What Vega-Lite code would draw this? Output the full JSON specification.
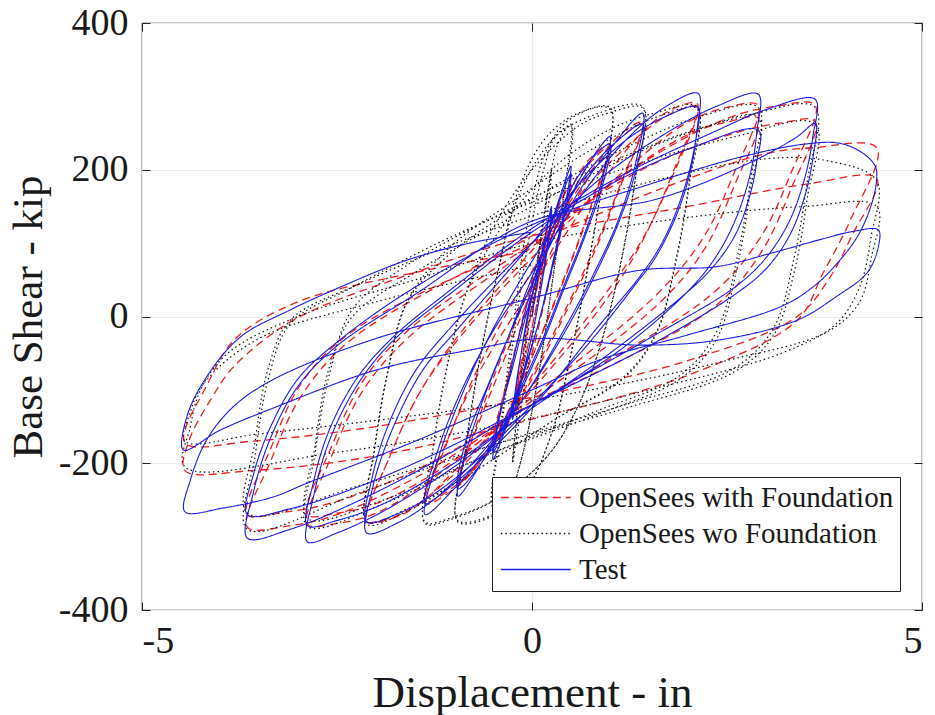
{
"$schema": "https://vega.github.io/schema/vega-lite/v6.json",
"width": 780, "height": 587,
"autosize": {"type": "none"},
"padding": {"left": 142, "top": 23, "right": 13, "bottom": 105},
"background": "white",
"data": {"values": [
{"s":"F","x":0,"y":0},{"s":"F","x":0.12,"y":70},{"s":"F","x":0.25,"y":130},
{"s":"F","x":0.15,"y":70},{"s":"F","x":0.03,"y":0},{"s":"F","x":-0.12,"y":-70},{"s":"F","x":-0.25,"y":-130},
{"s":"F","x":-0.15,"y":-70},{"s":"F","x":-0.03,"y":0},{"s":"F","x":0.12,"y":70},{"s":"F","x":0.25,"y":128},
{"s":"F","x":0.15,"y":68},{"s":"F","x":0.03,"y":0},{"s":"F","x":-0.12,"y":-70},{"s":"F","x":-0.25,"y":-128},
{"s":"F","x":-0.12,"y":-60},{"s":"F","x":0,"y":10},{"s":"F","x":0.2,"y":100},{"s":"F","x":0.38,"y":160},{"s":"F","x":0.5,"y":180},
{"s":"F","x":0.38,"y":120},{"s":"F","x":0.2,"y":40},{"s":"F","x":0,"y":-50},{"s":"F","x":-0.2,"y":-120},{"s":"F","x":-0.38,"y":-160},{"s":"F","x":-0.5,"y":-175},
{"s":"F","x":-0.38,"y":-115},{"s":"F","x":-0.2,"y":-40},{"s":"F","x":0,"y":50},{"s":"F","x":0.2,"y":120},{"s":"F","x":0.38,"y":160},{"s":"F","x":0.5,"y":178},
{"s":"F","x":0.38,"y":118},{"s":"F","x":0.2,"y":38},{"s":"F","x":0,"y":-50},{"s":"F","x":-0.2,"y":-118},{"s":"F","x":-0.38,"y":-158},{"s":"F","x":-0.5,"y":-172},
{"s":"F","x":-0.35,"y":-100},{"s":"F","x":-0.15,"y":-20},{"s":"F","x":0.1,"y":60},{"s":"F","x":0.4,"y":150},{"s":"F","x":0.7,"y":210},{"s":"F","x":1.0,"y":235},
{"s":"F","x":0.8,"y":165},{"s":"F","x":0.55,"y":90},{"s":"F","x":0.25,"y":10},{"s":"F","x":-0.1,"y":-80},{"s":"F","x":-0.45,"y":-160},{"s":"F","x":-0.75,"y":-210},{"s":"F","x":-0.95,"y":-230},
{"s":"F","x":-0.75,"y":-160},{"s":"F","x":-0.5,"y":-85},{"s":"F","x":-0.2,"y":-5},{"s":"F","x":0.1,"y":70},{"s":"F","x":0.45,"y":155},{"s":"F","x":0.75,"y":210},{"s":"F","x":1.0,"y":232},
{"s":"F","x":0.8,"y":162},{"s":"F","x":0.55,"y":88},{"s":"F","x":0.25,"y":8},{"s":"F","x":-0.1,"y":-80},{"s":"F","x":-0.45,"y":-160},{"s":"F","x":-0.75,"y":-208},{"s":"F","x":-0.95,"y":-228},
{"s":"F","x":-0.7,"y":-150},{"s":"F","x":-0.4,"y":-70},{"s":"F","x":-0.1,"y":10},{"s":"F","x":0.3,"y":100},{"s":"F","x":0.7,"y":185},{"s":"F","x":1.1,"y":245},{"s":"F","x":1.42,"y":265},
{"s":"F","x":1.15,"y":185},{"s":"F","x":0.85,"y":105},{"s":"F","x":0.5,"y":25},{"s":"F","x":0,"y":-80},{"s":"F","x":-0.5,"y":-175},{"s":"F","x":-1.0,"y":-235},{"s":"F","x":-1.37,"y":-255},
{"s":"F","x":-1.1,"y":-175},{"s":"F","x":-0.8,"y":-95},{"s":"F","x":-0.4,"y":-10},{"s":"F","x":0.1,"y":80},{"s":"F","x":0.6,"y":175},{"s":"F","x":1.1,"y":240},{"s":"F","x":1.42,"y":262},
{"s":"F","x":1.15,"y":182},{"s":"F","x":0.85,"y":100},{"s":"F","x":0.5,"y":20},{"s":"F","x":0,"y":-85},{"s":"F","x":-0.5,"y":-175},{"s":"F","x":-1.0,"y":-232},{"s":"F","x":-1.37,"y":-252},
{"s":"F","x":-1.07,"y":-165},{"s":"F","x":-0.7,"y":-80},{"s":"F","x":0,"y":40},{"s":"F","x":0.8,"y":170},{"s":"F","x":1.5,"y":260},{"s":"F","x":1.85,"y":285},{"s":"F","x":2.12,"y":290},
{"s":"F","x":1.82,"y":200},{"s":"F","x":1.45,"y":110},{"s":"F","x":1.0,"y":30},{"s":"F","x":0,"y":-100},{"s":"F","x":-0.9,"y":-200},{"s":"F","x":-1.5,"y":-260},{"s":"F","x":-1.85,"y":-277},{"s":"F","x":-2.12,"y":-280},
{"s":"F","x":-1.82,"y":-190},{"s":"F","x":-1.42,"y":-100},{"s":"F","x":-0.9,"y":-20},{"s":"F","x":0,"y":90},{"s":"F","x":1.0,"y":210},{"s":"F","x":1.6,"y":265},{"s":"F","x":1.9,"y":282},{"s":"F","x":2.12,"y":286},
{"s":"F","x":1.82,"y":196},{"s":"F","x":1.42,"y":106},{"s":"F","x":0.9,"y":25},{"s":"F","x":0,"y":-95},{"s":"F","x":-1.0,"y":-215},{"s":"F","x":-1.6,"y":-265},{"s":"F","x":-1.9,"y":-277},{"s":"F","x":-2.12,"y":-279},
{"s":"F","x":-1.82,"y":-190},{"s":"F","x":-1.42,"y":-100},{"s":"F","x":-0.9,"y":-25},{"s":"F","x":0,"y":80},{"s":"F","x":1.2,"y":200},{"s":"F","x":2.0,"y":265},{"s":"F","x":2.5,"y":285},{"s":"F","x":2.9,"y":288},
{"s":"F","x":2.6,"y":198},{"s":"F","x":2.2,"y":108},{"s":"F","x":1.6,"y":30},{"s":"F","x":0,"y":-110},{"s":"F","x":-1.2,"y":-215},{"s":"F","x":-2.0,"y":-268},{"s":"F","x":-2.5,"y":-282},{"s":"F","x":-2.88,"y":-283},
{"s":"F","x":-2.58,"y":-193},{"s":"F","x":-2.18,"y":-103},{"s":"F","x":-1.6,"y":-30},{"s":"F","x":0,"y":95},{"s":"F","x":1.2,"y":195},{"s":"F","x":2.0,"y":248},{"s":"F","x":2.5,"y":265},{"s":"F","x":2.9,"y":270},
{"s":"F","x":2.6,"y":180},{"s":"F","x":2.2,"y":90},{"s":"F","x":1.6,"y":15},{"s":"F","x":0,"y":-115},{"s":"F","x":-1.2,"y":-210},{"s":"F","x":-2.0,"y":-255},{"s":"F","x":-2.5,"y":-268},{"s":"F","x":-2.88,"y":-270},
{"s":"F","x":-2.58,"y":-180},{"s":"F","x":-2.18,"y":-90},{"s":"F","x":-1.6,"y":-20},{"s":"F","x":0,"y":100},{"s":"F","x":1.5,"y":215},{"s":"F","x":2.5,"y":270},{"s":"F","x":3.1,"y":286},{"s":"F","x":3.63,"y":288},
{"s":"F","x":3.33,"y":198},{"s":"F","x":2.93,"y":108},{"s":"F","x":2.3,"y":30},{"s":"F","x":0,"y":-120},{"s":"F","x":-1.5,"y":-220},{"s":"F","x":-2.5,"y":-270},{"s":"F","x":-3.1,"y":-285},{"s":"F","x":-3.65,"y":-287},
{"s":"F","x":-3.35,"y":-197},{"s":"F","x":-2.95,"y":-107},{"s":"F","x":-2.3,"y":-30},{"s":"F","x":0,"y":110},{"s":"F","x":1.5,"y":205},{"s":"F","x":2.6,"y":250},{"s":"F","x":3.2,"y":264},{"s":"F","x":3.63,"y":266},
{"s":"F","x":3.33,"y":176},{"s":"F","x":2.93,"y":86},{"s":"F","x":2.3,"y":10},{"s":"F","x":0,"y":-120},{"s":"F","x":-1.5,"y":-210},{"s":"F","x":-2.6,"y":-255},{"s":"F","x":-3.2,"y":-267},{"s":"F","x":-3.65,"y":-270},
{"s":"F","x":-3.35,"y":-180},{"s":"F","x":-2.95,"y":-90},{"s":"F","x":-2.3,"y":-20},{"s":"F","x":0,"y":100},{"s":"F","x":1.8,"y":180},{"s":"F","x":3.0,"y":222},{"s":"F","x":3.6,"y":230},{"s":"F","x":4.42,"y":230},
{"s":"F","x":4.08,"y":131},{"s":"F","x":3.73,"y":59},{"s":"F","x":3.4,"y":-5},{"s":"F","x":2.0,"y":-80},{"s":"F","x":0,"y":-140},{"s":"F","x":-2.0,"y":-190},{"s":"F","x":-3.6,"y":-210},{"s":"F","x":-4.45,"y":-210},
{"s":"F","x":-4.4,"y":-170},{"s":"F","x":-4.1,"y":-110},{"s":"F","x":-3.83,"y":-69},{"s":"F","x":-3.06,"y":-5},{"s":"F","x":-1.5,"y":60},{"s":"F","x":0,"y":110},{"s":"F","x":2.0,"y":150},{"s":"F","x":3.5,"y":180},{"s":"F","x":4.42,"y":188},
{"s":"F","x":4.1,"y":110},{"s":"F","x":3.8,"y":50},{"s":"F","x":3.4,"y":0},{"s":"F","x":2.0,"y":-60},{"s":"F","x":0,"y":-110},{"s":"F","x":-2.0,"y":-150},{"s":"F","x":-3.6,"y":-170},{"s":"F","x":-4.45,"y":-172},
{"s":"F","x":-4.15,"y":-90},{"s":"F","x":-3.8,"y":-30},{"s":"F","x":-3.0,"y":20},{"s":"F","x":-1.5,"y":60},{"s":"F","x":0,"y":90},

{"s":"W","x":0,"y":0},{"s":"W","x":0.12,"y":110},{"s":"W","x":0.25,"y":200},
{"s":"W","x":0.18,"y":120},{"s":"W","x":0.05,"y":0},{"s":"W","x":-0.12,"y":-110},{"s":"W","x":-0.25,"y":-200},
{"s":"W","x":-0.18,"y":-120},{"s":"W","x":-0.05,"y":0},{"s":"W","x":0.12,"y":110},{"s":"W","x":0.25,"y":198},
{"s":"W","x":0.18,"y":118},{"s":"W","x":0.05,"y":0},{"s":"W","x":-0.12,"y":-110},{"s":"W","x":-0.25,"y":-198},
{"s":"W","x":-0.15,"y":-100},{"s":"W","x":0,"y":20},{"s":"W","x":0.2,"y":170},{"s":"W","x":0.35,"y":240},{"s":"W","x":0.5,"y":262},
{"s":"W","x":0.4,"y":160},{"s":"W","x":0.25,"y":40},{"s":"W","x":0.05,"y":-100},{"s":"W","x":-0.15,"y":-200},{"s":"W","x":-0.3,"y":-245},{"s":"W","x":-0.5,"y":-260},
{"s":"W","x":-0.4,"y":-160},{"s":"W","x":-0.25,"y":-40},{"s":"W","x":-0.05,"y":100},{"s":"W","x":0.15,"y":200},{"s":"W","x":0.3,"y":245},{"s":"W","x":0.5,"y":260},
{"s":"W","x":0.4,"y":158},{"s":"W","x":0.25,"y":38},{"s":"W","x":0.05,"y":-100},{"s":"W","x":-0.15,"y":-200},{"s":"W","x":-0.3,"y":-243},{"s":"W","x":-0.5,"y":-258},
{"s":"W","x":-0.4,"y":-150},{"s":"W","x":-0.25,"y":-20},{"s":"W","x":-0.05,"y":130},{"s":"W","x":0.2,"y":230},{"s":"W","x":0.5,"y":270},{"s":"W","x":1.0,"y":285},
{"s":"W","x":0.9,"y":185},{"s":"W","x":0.72,"y":70},{"s":"W","x":0.5,"y":-50},{"s":"W","x":0.25,"y":-160},{"s":"W","x":-0.1,"y":-240},{"s":"W","x":-0.5,"y":-272},{"s":"W","x":-0.95,"y":-280},
{"s":"W","x":-0.85,"y":-180},{"s":"W","x":-0.68,"y":-65},{"s":"W","x":-0.45,"y":55},{"s":"W","x":-0.2,"y":165},{"s":"W","x":0.15,"y":240},{"s":"W","x":0.55,"y":275},{"s":"W","x":1.0,"y":283},
{"s":"W","x":0.9,"y":183},{"s":"W","x":0.72,"y":68},{"s":"W","x":0.5,"y":-52},{"s":"W","x":0.25,"y":-160},{"s":"W","x":-0.1,"y":-240},{"s":"W","x":-0.5,"y":-270},{"s":"W","x":-0.95,"y":-278},
{"s":"W","x":-0.85,"y":-178},{"s":"W","x":-0.68,"y":-63},{"s":"W","x":-0.45,"y":55},{"s":"W","x":-0.15,"y":170},{"s":"W","x":0.3,"y":245},{"s":"W","x":0.8,"y":275},{"s":"W","x":1.42,"y":286},
{"s":"W","x":1.32,"y":186},{"s":"W","x":1.15,"y":80},{"s":"W","x":0.9,"y":-30},{"s":"W","x":0.6,"y":-120},{"s":"W","x":0.2,"y":-190},{"s":"W","x":-0.4,"y":-245},{"s":"W","x":-1.0,"y":-275},{"s":"W","x":-1.37,"y":-282},
{"s":"W","x":-1.27,"y":-182},{"s":"W","x":-1.1,"y":-75},{"s":"W","x":-0.85,"y":30},{"s":"W","x":-0.5,"y":120},{"s":"W","x":0,"y":200},{"s":"W","x":0.6,"y":260},{"s":"W","x":1.0,"y":278},{"s":"W","x":1.42,"y":284},
{"s":"W","x":1.32,"y":184},{"s":"W","x":1.15,"y":78},{"s":"W","x":0.9,"y":-32},{"s":"W","x":0.6,"y":-120},{"s":"W","x":0.2,"y":-190},{"s":"W","x":-0.4,"y":-245},{"s":"W","x":-1.0,"y":-273},{"s":"W","x":-1.37,"y":-280},
{"s":"W","x":-1.27,"y":-180},{"s":"W","x":-1.1,"y":-73},{"s":"W","x":-0.85,"y":30},{"s":"W","x":-0.4,"y":120},{"s":"W","x":0.3,"y":205},{"s":"W","x":1.0,"y":255},{"s":"W","x":1.6,"y":278},{"s":"W","x":2.12,"y":286},
{"s":"W","x":2.02,"y":186},{"s":"W","x":1.85,"y":80},{"s":"W","x":1.6,"y":-20},{"s":"W","x":1.2,"y":-80},{"s":"W","x":0.3,"y":-140},{"s":"W","x":-0.8,"y":-215},{"s":"W","x":-1.6,"y":-265},{"s":"W","x":-2.12,"y":-283},
{"s":"W","x":-2.02,"y":-183},{"s":"W","x":-1.85,"y":-77},{"s":"W","x":-1.6,"y":20},{"s":"W","x":-1.1,"y":90},{"s":"W","x":-0.2,"y":160},{"s":"W","x":0.8,"y":230},{"s":"W","x":1.6,"y":272},{"s":"W","x":2.12,"y":283},
{"s":"W","x":2.02,"y":183},{"s":"W","x":1.85,"y":77},{"s":"W","x":1.6,"y":-22},{"s":"W","x":1.2,"y":-82},{"s":"W","x":0.3,"y":-140},{"s":"W","x":-0.8,"y":-215},{"s":"W","x":-1.6,"y":-262},{"s":"W","x":-2.12,"y":-280},
{"s":"W","x":-2.02,"y":-180},{"s":"W","x":-1.85,"y":-75},{"s":"W","x":-1.6,"y":20},{"s":"W","x":-1.0,"y":90},{"s":"W","x":0,"y":160},{"s":"W","x":1.2,"y":230},{"s":"W","x":2.2,"y":274},{"s":"W","x":2.9,"y":285},
{"s":"W","x":2.8,"y":185},{"s":"W","x":2.63,"y":80},{"s":"W","x":2.37,"y":-20},{"s":"W","x":1.9,"y":-80},{"s":"W","x":0.8,"y":-130},{"s":"W","x":-0.6,"y":-190},{"s":"W","x":-1.9,"y":-255},{"s":"W","x":-2.88,"y":-286},
{"s":"W","x":-2.78,"y":-186},{"s":"W","x":-2.6,"y":-80},{"s":"W","x":-2.3,"y":10},{"s":"W","x":-1.6,"y":70},{"s":"W","x":-0.4,"y":140},{"s":"W","x":1.0,"y":210},{"s":"W","x":2.2,"y":258},{"s":"W","x":2.9,"y":272},
{"s":"W","x":2.8,"y":172},{"s":"W","x":2.63,"y":67},{"s":"W","x":2.37,"y":-30},{"s":"W","x":1.9,"y":-85},{"s":"W","x":0.8,"y":-135},{"s":"W","x":-0.6,"y":-190},{"s":"W","x":-1.9,"y":-250},{"s":"W","x":-2.88,"y":-275},
{"s":"W","x":-2.78,"y":-175},{"s":"W","x":-2.6,"y":-70},{"s":"W","x":-2.3,"y":0},{"s":"W","x":-1.5,"y":60},{"s":"W","x":0,"y":150},{"s":"W","x":1.5,"y":230},{"s":"W","x":2.8,"y":275},{"s":"W","x":3.63,"y":285},
{"s":"W","x":3.53,"y":185},{"s":"W","x":3.36,"y":80},{"s":"W","x":3.1,"y":-15},{"s":"W","x":2.6,"y":-70},{"s":"W","x":1.2,"y":-120},{"s":"W","x":-0.5,"y":-175},{"s":"W","x":-2.2,"y":-240},{"s":"W","x":-3.65,"y":-290},
{"s":"W","x":-3.55,"y":-190},{"s":"W","x":-3.38,"y":-85},{"s":"W","x":-3.1,"y":-10},{"s":"W","x":-2.3,"y":40},{"s":"W","x":-0.8,"y":120},{"s":"W","x":1.0,"y":195},{"s":"W","x":2.6,"y":245},{"s":"W","x":3.63,"y":262},
{"s":"W","x":3.53,"y":162},{"s":"W","x":3.36,"y":60},{"s":"W","x":3.1,"y":-25},{"s":"W","x":2.6,"y":-75},{"s":"W","x":1.2,"y":-125},{"s":"W","x":-0.5,"y":-175},{"s":"W","x":-2.2,"y":-230},{"s":"W","x":-3.65,"y":-268},
{"s":"W","x":-3.55,"y":-170},{"s":"W","x":-3.38,"y":-70},{"s":"W","x":-3.1,"y":-5},{"s":"W","x":-2.2,"y":45},{"s":"W","x":-0.6,"y":115},{"s":"W","x":1.2,"y":175},{"s":"W","x":3.0,"y":215},{"s":"W","x":3.8,"y":212},{"s":"W","x":4.42,"y":185},
{"s":"W","x":4.35,"y":110},{"s":"W","x":4.2,"y":40},{"s":"W","x":3.9,"y":-10},{"s":"W","x":3.2,"y":-50},{"s":"W","x":1.5,"y":-100},{"s":"W","x":-0.5,"y":-150},{"s":"W","x":-2.5,"y":-185},{"s":"W","x":-4.45,"y":-205},
{"s":"W","x":-4.38,"y":-150},{"s":"W","x":-4.25,"y":-100},{"s":"W","x":-3.9,"y":-50},{"s":"W","x":-3.0,"y":0},{"s":"W","x":-1.5,"y":50},{"s":"W","x":0,"y":100},{"s":"W","x":2.0,"y":135},{"s":"W","x":3.5,"y":150},{"s":"W","x":4.42,"y":150},
{"s":"W","x":4.35,"y":80},{"s":"W","x":4.2,"y":20},{"s":"W","x":3.8,"y":-20},{"s":"W","x":2.5,"y":-60},{"s":"W","x":0.5,"y":-105},{"s":"W","x":-1.5,"y":-135},{"s":"W","x":-3.5,"y":-160},{"s":"W","x":-4.45,"y":-170},
{"s":"W","x":-4.38,"y":-130},{"s":"W","x":-4.2,"y":-90},{"s":"W","x":-3.5,"y":-30},{"s":"W","x":-2.0,"y":20},{"s":"W","x":0,"y":70},

{"s":"T","x":0,"y":0},{"s":"T","x":0.12,"y":80},{"s":"T","x":0.25,"y":150},
{"s":"T","x":0.2,"y":100},{"s":"T","x":0.05,"y":0},{"s":"T","x":-0.12,"y":-80},{"s":"T","x":-0.25,"y":-140},
{"s":"T","x":-0.2,"y":-90},{"s":"T","x":-0.05,"y":0},{"s":"T","x":0.12,"y":85},{"s":"T","x":0.25,"y":145},
{"s":"T","x":0.2,"y":95},{"s":"T","x":0.05,"y":0},{"s":"T","x":-0.12,"y":-80},{"s":"T","x":-0.25,"y":-135},
{"s":"T","x":-0.18,"y":-80},{"s":"T","x":-0.05,"y":5},{"s":"T","x":0.2,"y":110},{"s":"T","x":0.38,"y":170},{"s":"T","x":0.5,"y":205},
{"s":"T","x":0.44,"y":160},{"s":"T","x":0.3,"y":90},{"s":"T","x":0.08,"y":-10},{"s":"T","x":-0.2,"y":-110},{"s":"T","x":-0.38,"y":-165},{"s":"T","x":-0.5,"y":-195},
{"s":"T","x":-0.44,"y":-150},{"s":"T","x":-0.3,"y":-85},{"s":"T","x":-0.08,"y":10},{"s":"T","x":0.2,"y":110},{"s":"T","x":0.38,"y":165},{"s":"T","x":0.5,"y":195},
{"s":"T","x":0.44,"y":150},{"s":"T","x":0.3,"y":85},{"s":"T","x":0.08,"y":-10},{"s":"T","x":-0.2,"y":-105},{"s":"T","x":-0.38,"y":-160},{"s":"T","x":-0.5,"y":-185},
{"s":"T","x":-0.43,"y":-140},{"s":"T","x":-0.25,"y":-70},{"s":"T","x":0,"y":30},{"s":"T","x":0.3,"y":120},{"s":"T","x":0.6,"y":185},{"s":"T","x":0.85,"y":228},{"s":"T","x":1.0,"y":245},
{"s":"T","x":0.92,"y":195},{"s":"T","x":0.7,"y":120},{"s":"T","x":0.4,"y":40},{"s":"T","x":0.1,"y":-40},{"s":"T","x":-0.3,"y":-130},{"s":"T","x":-0.65,"y":-200},{"s":"T","x":-0.95,"y":-245},
{"s":"T","x":-0.87,"y":-195},{"s":"T","x":-0.65,"y":-120},{"s":"T","x":-0.35,"y":-40},{"s":"T","x":-0.05,"y":40},{"s":"T","x":0.3,"y":130},{"s":"T","x":0.65,"y":200},{"s":"T","x":1.0,"y":235},
{"s":"T","x":0.92,"y":185},{"s":"T","x":0.7,"y":115},{"s":"T","x":0.4,"y":35},{"s":"T","x":0.1,"y":-45},{"s":"T","x":-0.3,"y":-135},{"s":"T","x":-0.65,"y":-200},{"s":"T","x":-0.95,"y":-235},
{"s":"T","x":-0.85,"y":-170},{"s":"T","x":-0.55,"y":-90},{"s":"T","x":-0.25,"y":-15},{"s":"T","x":0.2,"y":90},{"s":"T","x":0.6,"y":170},{"s":"T","x":1.0,"y":228},{"s":"T","x":1.42,"y":277},
{"s":"T","x":1.32,"y":205},{"s":"T","x":1.1,"y":130},{"s":"T","x":0.8,"y":60},{"s":"T","x":0.4,"y":-20},{"s":"T","x":-0.1,"y":-110},{"s":"T","x":-0.6,"y":-185},{"s":"T","x":-1.0,"y":-235},{"s":"T","x":-1.37,"y":-270},
{"s":"T","x":-1.18,"y":-186},{"s":"T","x":-0.76,"y":-73},{"s":"T","x":-0.32,"y":18},{"s":"T","x":0.2,"y":110},{"s":"T","x":0.7,"y":195},{"s":"T","x":1.1,"y":240},{"s":"T","x":1.42,"y":262},
{"s":"T","x":1.32,"y":195},{"s":"T","x":1.1,"y":125},{"s":"T","x":0.8,"y":55},{"s":"T","x":0.4,"y":-25},{"s":"T","x":-0.1,"y":-110},{"s":"T","x":-0.6,"y":-180},{"s":"T","x":-1.0,"y":-225},{"s":"T","x":-1.37,"y":-255},
{"s":"T","x":-1.2,"y":-180},{"s":"T","x":-0.9,"y":-100},{"s":"T","x":-0.5,"y":-20},{"s":"T","x":0,"y":60},{"s":"T","x":0.6,"y":160},{"s":"T","x":1.2,"y":240},{"s":"T","x":1.7,"y":285},{"s":"T","x":2.13,"y":304},
{"s":"T","x":2.12,"y":258},{"s":"T","x":2.03,"y":204},{"s":"T","x":1.86,"y":146},{"s":"T","x":1.64,"y":95},{"s":"T","x":1.38,"y":54},{"s":"T","x":0.8,"y":-20},{"s":"T","x":0.2,"y":-100},{"s":"T","x":-0.5,"y":-180},{"s":"T","x":-1.2,"y":-245},{"s":"T","x":-1.7,"y":-280},{"s":"T","x":-2.12,"y":-295},
{"s":"T","x":-2.04,"y":-232},{"s":"T","x":-1.78,"y":-151},{"s":"T","x":-1.4,"y":-73},{"s":"T","x":-0.96,"y":-18},{"s":"T","x":0,"y":100},{"s":"T","x":0.6,"y":180},{"s":"T","x":1.2,"y":240},{"s":"T","x":1.7,"y":272},{"s":"T","x":2.12,"y":285},
{"s":"T","x":2.1,"y":240},{"s":"T","x":2.0,"y":185},{"s":"T","x":1.82,"y":130},{"s":"T","x":1.58,"y":80},{"s":"T","x":1.3,"y":40},{"s":"T","x":0.7,"y":-40},{"s":"T","x":0,"y":-120},{"s":"T","x":-0.7,"y":-195},{"s":"T","x":-1.3,"y":-245},{"s":"T","x":-1.75,"y":-270},{"s":"T","x":-2.12,"y":-280},
{"s":"T","x":-2.05,"y":-220},{"s":"T","x":-1.85,"y":-150},{"s":"T","x":-1.5,"y":-75},{"s":"T","x":-1.0,"y":-10},{"s":"T","x":0,"y":100},{"s":"T","x":0.9,"y":190},{"s":"T","x":1.8,"y":255},{"s":"T","x":2.4,"y":288},{"s":"T","x":2.9,"y":303},
{"s":"T","x":2.88,"y":250},{"s":"T","x":2.8,"y":195},{"s":"T","x":2.62,"y":135},{"s":"T","x":2.38,"y":85},{"s":"T","x":2.05,"y":40},{"s":"T","x":1.2,"y":-40},{"s":"T","x":0,"y":-125},{"s":"T","x":-1.0,"y":-205},{"s":"T","x":-1.9,"y":-265},{"s":"T","x":-2.5,"y":-295},{"s":"T","x":-2.88,"y":-307},
{"s":"T","x":-2.8,"y":-245},{"s":"T","x":-2.6,"y":-170},{"s":"T","x":-2.25,"y":-95},{"s":"T","x":-1.8,"y":-35},{"s":"T","x":-1.0,"y":35},{"s":"T","x":0,"y":115},{"s":"T","x":1.0,"y":180},{"s":"T","x":2.0,"y":228},{"s":"T","x":2.9,"y":254},
{"s":"T","x":2.88,"y":210},{"s":"T","x":2.78,"y":160},{"s":"T","x":2.6,"y":110},{"s":"T","x":2.3,"y":65},{"s":"T","x":1.9,"y":25},{"s":"T","x":1.0,"y":-50},{"s":"T","x":0,"y":-125},{"s":"T","x":-1.0,"y":-200},{"s":"T","x":-1.9,"y":-255},{"s":"T","x":-2.5,"y":-278},{"s":"T","x":-2.88,"y":-285},
{"s":"T","x":-2.8,"y":-225},{"s":"T","x":-2.6,"y":-155},{"s":"T","x":-2.25,"y":-85},{"s":"T","x":-1.8,"y":-30},{"s":"T","x":-1.0,"y":40},{"s":"T","x":0,"y":120},{"s":"T","x":1.2,"y":195},{"s":"T","x":2.3,"y":250},{"s":"T","x":3.0,"y":282},{"s":"T","x":3.63,"y":296},
{"s":"T","x":3.6,"y":245},{"s":"T","x":3.5,"y":190},{"s":"T","x":3.3,"y":130},{"s":"T","x":3.0,"y":80},{"s":"T","x":2.6,"y":40},{"s":"T","x":1.5,"y":-30},{"s":"T","x":0,"y":-120},{"s":"T","x":-1.2,"y":-195},{"s":"T","x":-2.3,"y":-255},{"s":"T","x":-3.1,"y":-290},{"s":"T","x":-3.65,"y":-302},
{"s":"T","x":-3.57,"y":-239},{"s":"T","x":-3.35,"y":-165},{"s":"T","x":-3.0,"y":-95},{"s":"T","x":-2.5,"y":-40},{"s":"T","x":-1.5,"y":30},{"s":"T","x":0,"y":130},{"s":"T","x":1.6,"y":160},{"s":"T","x":2.8,"y":210},{"s":"T","x":3.4,"y":245},{"s":"T","x":3.63,"y":263},
{"s":"T","x":3.6,"y":215},{"s":"T","x":3.5,"y":165},{"s":"T","x":3.3,"y":110},{"s":"T","x":3.0,"y":65},{"s":"T","x":2.6,"y":30},{"s":"T","x":1.5,"y":-40},{"s":"T","x":0,"y":-120},{"s":"T","x":-1.2,"y":-185},{"s":"T","x":-2.3,"y":-235},{"s":"T","x":-3.1,"y":-262},{"s":"T","x":-3.65,"y":-270},
{"s":"T","x":-3.57,"y":-215},{"s":"T","x":-3.35,"y":-150},{"s":"T","x":-3.0,"y":-85},{"s":"T","x":-2.5,"y":-35},{"s":"T","x":-1.5,"y":40},{"s":"T","x":0,"y":125},{"s":"T","x":1.5,"y":180},{"s":"T","x":2.7,"y":218},{"s":"T","x":3.5,"y":235},{"s":"T","x":3.95,"y":236},{"s":"T","x":4.25,"y":222},{"s":"T","x":4.4,"y":205},{"s":"T","x":4.42,"y":190},
{"s":"T","x":4.37,"y":159},{"s":"T","x":4.2,"y":114},{"s":"T","x":3.95,"y":77},{"s":"T","x":3.6,"y":40},{"s":"T","x":3.18,"y":13},{"s":"T","x":2.0,"y":-25},{"s":"T","x":0.87,"y":-59},{"s":"T","x":0,"y":-100},{"s":"T","x":-1.5,"y":-170},{"s":"T","x":-2.88,"y":-227},{"s":"T","x":-3.32,"y":-246},{"s":"T","x":-3.96,"y":-261},{"s":"T","x":-4.45,"y":-266},
{"s":"T","x":-4.38,"y":-223},{"s":"T","x":-4.17,"y":-168},{"s":"T","x":-3.83,"y":-123},{"s":"T","x":-3.32,"y":-86},{"s":"T","x":-2.0,"y":-30},{"s":"T","x":0,"y":25},{"s":"T","x":1.38,"y":63},{"s":"T","x":2.37,"y":68},{"s":"T","x":3.09,"y":87},{"s":"T","x":3.7,"y":105},{"s":"T","x":4.12,"y":116},{"s":"T","x":4.44,"y":118},
{"s":"T","x":4.44,"y":95},{"s":"T","x":4.3,"y":60},{"s":"T","x":3.9,"y":27},{"s":"T","x":3.4,"y":-5},{"s":"T","x":2.4,"y":-32},{"s":"T","x":1.38,"y":-39},{"s":"T","x":0.1,"y":-30},{"s":"T","x":-0.76,"y":-45},{"s":"T","x":-2.0,"y":-73},{"s":"T","x":-3.3,"y":-124},{"s":"T","x":-4.0,"y":-155},{"s":"T","x":-4.47,"y":-182},
{"s":"T","x":-4.42,"y":-135},{"s":"T","x":-4.17,"y":-82},{"s":"T","x":-3.74,"y":-28},{"s":"T","x":-3.1,"y":9},{"s":"T","x":-2.46,"y":40},{"s":"T","x":-1.6,"y":77},{"s":"T","x":-0.8,"y":100},{"s":"T","x":0,"y":115}
]},
"encoding": {
  "color": {"field": "s", "type": "nominal", "scale": {"domain": ["F", "W", "T"], "range": ["#ee1c1c", "#111111", "#1c1ce0"]},
    "legend": {"orient": "none", "legendX": 350, "legendY": 454, "title": null, "labelExpr": "datum.value == 'F' ? 'OpenSees with Foundation' : datum.value == 'W' ? 'OpenSees wo Foundation' : 'Test'"}},
  "strokeDash": {"field": "s", "type": "nominal", "scale": {"domain": ["F", "W", "T"], "range": [[8, 5], [1.5, 3], [1, 0]]},
    "legend": {"orient": "none", "legendX": 350, "legendY": 454, "title": null, "labelExpr": "datum.value == 'F' ? 'OpenSees with Foundation' : datum.value == 'W' ? 'OpenSees wo Foundation' : 'Test'"}},
  "order": {"value": null}
},
"layer": [
  {
    "transform": [{"filter": "datum.s == 'F'"}],
    "mark": {"type": "line", "interpolate": "catmull-rom", "strokeWidth": 1.3, "clip": true},
    "encoding": {
      "x": {"field": "x", "type": "quantitative", "scale": {"domain": [-5, 5], "nice": false},
        "axis": {"orient": "bottom", "values": [-5, 0, 5], "labelExpr": "'' + datum.value", "title": "Displacement - in", "labelFontSize": 38, "titleFontSize": 45, "tickSize": -8, "labelPadding": 20, "grid": true, "gridColor": "#ececec", "titleY": 82, "titleBaseline": "middle"}},
      "y": {"field": "y", "type": "quantitative", "scale": {"domain": [-400, 400], "nice": false},
        "axis": {"orient": "left", "values": [-400, -200, 0, 200, 400], "labelExpr": "'' + datum.value", "title": "Base Shear - kip", "labelFontSize": 38, "titleFontSize": 43, "tickSize": -8, "labelPadding": 22, "grid": true, "gridColor": "#ececec", "titleX": -114, "titleBaseline": "middle"}}
    }
  },
  {
    "transform": [{"filter": "datum.s == 'W'"}],
    "mark": {"type": "line", "interpolate": "catmull-rom", "strokeWidth": 1.2, "clip": true},
    "encoding": {
      "x": {"field": "x", "type": "quantitative", "axis": {"orient": "top", "values": [-5, 0, 5], "labels": false, "title": null, "tickSize": -8, "grid": false}},
      "y": {"field": "y", "type": "quantitative", "axis": {"orient": "right", "values": [-400, -200, 0, 200, 400], "labels": false, "title": null, "tickSize": -8, "grid": false}}
    }
  },
  {
    "transform": [{"filter": "datum.s == 'T'"}],
    "mark": {"type": "line", "interpolate": "catmull-rom", "strokeWidth": 1.1, "clip": true},
    "encoding": {
      "x": {"field": "x", "type": "quantitative", "axis": null},
      "y": {"field": "y", "type": "quantitative", "axis": null}
    }
  }
],
"config": {
  "font": "Liberation Serif",
  "view": {"stroke": "#222222", "strokeWidth": 1.2},
  "axis": {"labelFont": "Liberation Serif", "titleFont": "Liberation Serif", "labelColor": "#1a1a1a", "titleColor": "#1a1a1a", "titleFontWeight": "normal", "tickColor": "#222222", "domain": false},
  "legend": {"strokeColor": "#222222", "fillColor": "white", "padding": 6, "labelFont": "Liberation Serif", "labelFontSize": 29, "labelColor": "#1a1a1a", "labelLimit": 500, "symbolType": "M-1,0H5", "symbolSize": 544, "symbolStrokeWidth": 1.3, "labelOffset": 52, "rowPadding": 6, "cornerRadius": 0}
}
}
